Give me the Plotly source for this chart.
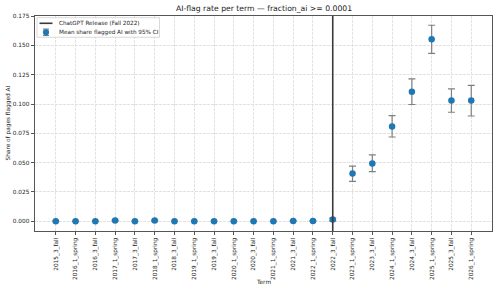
import plotly.graph_objects as go

terms = ["2015_3_fall", "2016_1_spring", "2016_3_fall", "2017_1_spring", "2017_3_fall",
         "2018_1_spring", "2018_3_fall", "2019_1_spring", "2019_3_fall", "2020_1_spring",
         "2020_3_fall", "2021_1_spring", "2021_3_fall", "2022_1_spring", "2022_3_fall",
         "2023_1_spring", "2023_3_fall", "2024_1_spring", "2024_3_fall", "2025_1_spring",
         "2025_3_fall", "2026_1_spring"]
mean_share = [0.0001, 0.0001, 0.0001, 0.0006, 0.0001, 0.0006, 0.0001, 0.0001, 0.0001, 0.0001,
              0.0001, 0.0001, 0.0003, 0.0003, 0.0015, 0.0407, 0.0492, 0.0808, 0.1104, 0.1552,
              0.1031, 0.1031]
ci_low = [0.0, 0.0, 0.0, 0.0002, 0.0, 0.0002, 0.0, 0.0, 0.0, 0.0,
          0.0, 0.0, 0.0001, 0.0001, 0.0003, 0.0340, 0.0424, 0.0719, 0.0996, 0.1433,
          0.0930, 0.0898]
ci_high = [0.0002, 0.0002, 0.0002, 0.0010, 0.0002, 0.0010, 0.0002, 0.0002, 0.0002, 0.0002,
           0.0002, 0.0002, 0.0005, 0.0005, 0.0027, 0.0470, 0.0566, 0.0902, 0.1214, 0.1672,
           0.1129, 0.1160]
release_term = "2022_3_fall"
release_label = "ChatGPT Release (Fall 2022)"
series_label = "Mean share flagged AI with 95% CI"
y_ticks = [0.0, 0.025, 0.05, 0.075, 0.1, 0.125, 0.15, 0.175]
y_range = [-0.0083, 0.1751]

err_plus = [h - m for h, m in zip(ci_high, mean_share)]
err_minus = [m - l for m, l in zip(mean_share, ci_low)]

FONT = "DejaVu Sans"
W, H = 500, 292
L, R, T, B = 35, 8, 15.5, 61.3
PW, PH = W - L - R, H - T - B


def px(x):
    return (x - L) / PW


def py(y):
    return (H - B - y) / PH


fig = go.Figure()
fig.add_trace(go.Scatter(
    x=terms, y=mean_share, mode="markers", name=series_label, showlegend=False,
    marker=dict(color="#1f77b4", size=6.5),
    error_y=dict(type="data", array=err_plus, arrayminus=err_minus,
                 color="#808080", thickness=1.2, width=3.5),
))
fig.add_shape(type="line", xref="x", yref="paper", x0=release_term, x1=release_term,
              y0=0, y1=1, line=dict(color="#3a3a3a", width=1.6))

# manual legend (matplotlib-style, compact)
fig.add_shape(type="rect", xref="paper", yref="paper", x0=px(37), x1=px(159.5),
              y0=py(36.8), y1=py(17.2), fillcolor="rgba(255,255,255,0.85)",
              line=dict(color="#d0d0d0", width=0.8))
fig.add_shape(type="line", xref="paper", yref="paper", x0=px(39.5), x1=px(52.5),
              y0=py(22.8), y1=py(22.8), line=dict(color="#3a3a3a", width=1.6))
fig.add_shape(type="line", xref="paper", yref="paper", x0=px(46), x1=px(46),
              y0=py(28.6), y1=py(35), line=dict(color="#808080", width=1.2))
for yy in (28.6, 35):
    fig.add_shape(type="line", xref="paper", yref="paper", x0=px(43), x1=px(49),
                  y0=py(yy), y1=py(yy), line=dict(color="#808080", width=1.2))
fig.add_shape(type="circle", xref="paper", yref="paper", x0=px(46 - 3.1), x1=px(46 + 3.1),
              y0=py(31.8 + 3.1), y1=py(31.8 - 3.1), fillcolor="#1f77b4",
              line=dict(color="#1f77b4", width=0))
for label, yy in ((release_label, 22.8), (series_label, 31.8)):
    fig.add_annotation(text=label, xref="paper", yref="paper", x=px(56.5), y=py(yy),
                       xanchor="left", yanchor="middle", showarrow=False,
                       font=dict(size=5.7, family=FONT, color="#222222"))

# axis titles
fig.add_annotation(text="Term", xref="paper", yref="paper", x=0.5, y=py(282),
                   xanchor="center", yanchor="middle", showarrow=False,
                   font=dict(size=5.8, family=FONT, color="#222222"))
fig.add_annotation(text="Share of pages flagged AI", xref="paper", yref="paper", x=px(8),
                   y=0.5, xanchor="center", yanchor="middle", textangle=-90, showarrow=False,
                   font=dict(size=5.8, family=FONT, color="#222222"))

fig.update_layout(
    width=W, height=H,
    margin=dict(l=L, r=R, t=T, b=B),
    paper_bgcolor="white", plot_bgcolor="white",
    font=dict(family=FONT, size=5.8, color="#222222"),
    title=dict(text="AI-flag rate per term — fraction_ai >= 0.0001", x=px(264), xanchor="center",
               xref="paper", y=1 - 8 / H, yanchor="middle",
               font=dict(size=7.7, family=FONT, color="#222222")),
    showlegend=False,
)
fig.update_xaxes(
    type="category", categoryorder="array", categoryarray=terms,
    range=[-1.05, len(terms) - 1 + 1.05], tickangle=-90, automargin=False,
    showgrid=True, gridcolor="#e2e2e2", griddash="2.5px,1.5px", gridwidth=0.7,
    showline=True, mirror=True, linecolor="#555555", linewidth=0.8,
    ticks="outside", ticklen=3.5, tickcolor="#555555",
    zeroline=False,
)
fig.update_yaxes(
    range=y_range, tickvals=y_ticks, tickformat=".3f", automargin=False,
    showgrid=True, gridcolor="#e2e2e2", griddash="2.5px,1.5px", gridwidth=0.7,
    showline=True, mirror=True, linecolor="#555555", linewidth=0.8,
    ticks="outside", ticklen=3.5, tickcolor="#555555",
    zeroline=False,
)
fig.write_html("out.html")
